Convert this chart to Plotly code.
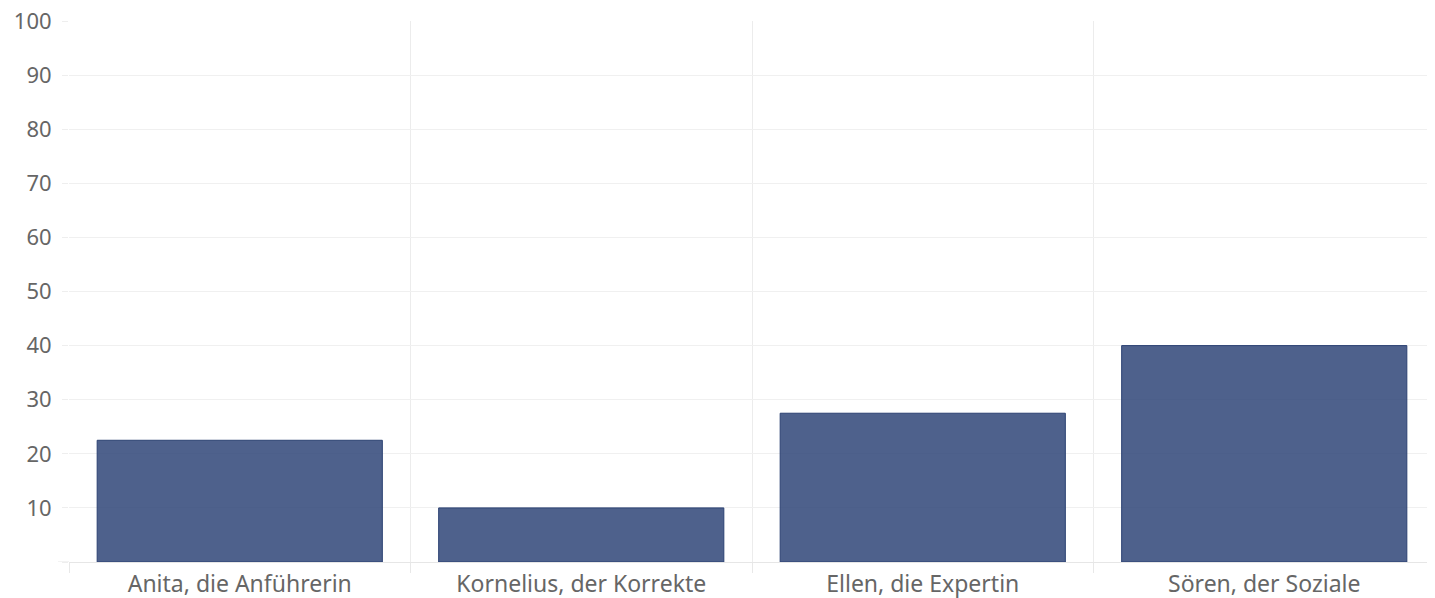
import plotly.graph_objects as go

categories = ["Anita, die Anführerin", "Kornelius, der Korrekte", "Ellen, die Expertin", "Sören, der Soziale"]
values = [22.5, 10, 27.5, 40]
y_ticks = [0, 10, 20, 30, 40, 50, 60, 70, 80, 90, 100]
y_ticktext = [""] + [str(v) for v in y_ticks[1:]]

# the page body adds an 8px margin, so the figure is sized to fill the rest of the window
W, H = 1427, 590
L, R, T, B = 61, 0, 13, 36

fig = go.Figure(go.Bar(
    x=categories, y=values,
    marker=dict(color="rgba(47,69,120,0.85)", line=dict(color="#2b4172", width=1)),
    hoverinfo="x+y",
))

fig.update_layout(
    width=W, height=H,
    margin=dict(l=L, r=R, t=T, b=B, autoexpand=False),
    paper_bgcolor="white", plot_bgcolor="white",
    bargap=0.165,
    showlegend=False,
    font=dict(family="Noto Sans, Open Sans, sans-serif", size=22, color="#666666"),
)
fig.update_xaxes(
    type="category", tickson="boundaries", showgrid=True, gridcolor="#ececec", gridwidth=1,
    ticks="outside", ticklen=10, tickcolor="#e8e8e8", showline=False, zeroline=False,
    tickfont=dict(size=23, color="#666666"), automargin=False, ticklabelstandoff=6,
    ticklabeloverflow="allow",
)
fig.update_yaxes(
    range=[0, 100], tickvals=y_ticks, ticktext=y_ticktext,
    showgrid=True, gridcolor="#f0f0f0", gridwidth=1,
    ticks="outside", ticklen=6, tickcolor="#eeeeee",
    zeroline=True, zerolinecolor="#e6e6e6", zerolinewidth=1,
    showline=False, ticklabelstandoff=6, automargin=False,
    ticklabeloverflow="allow",
    tickfont=dict(size=22, color="#666666"),
)
# longer tick at the baseline
plot_w = W - L - R
fig.add_shape(type="line", xref="paper", yref="y", x0=-11 / plot_w, x1=0, y0=0, y1=0,
              line=dict(color="#e6e6e6", width=1))

fig.write_html("out.html")
